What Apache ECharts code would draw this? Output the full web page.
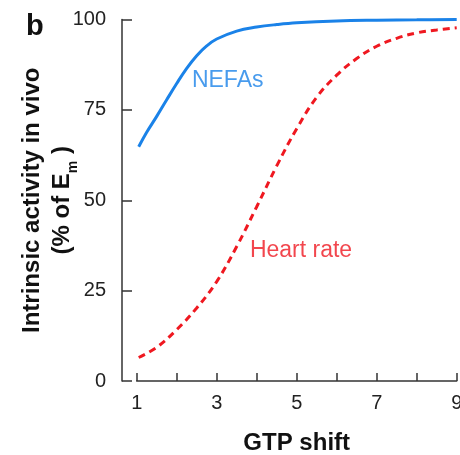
<!DOCTYPE html>
<html>
<head>
<meta charset="utf-8">
<script src="https://cdn.jsdelivr.net/npm/echarts@6/dist/echarts.min.js"></script>
<style>
html,body{margin:0;padding:0;background:#fff;}
#c{width:460px;height:455px;}
</style>
</head>
<body>
<div id="c"></div>
<script>
// GTP shift values and intrinsic activity (% of Em)
var nefaX = [1.05, 1.25, 1.5, 1.75, 2, 2.25, 2.5, 2.75, 3, 3.5, 4, 4.5, 5, 6, 7, 8, 9];
var nefaY = [64.8, 68.8, 73.2, 77.8, 82.3, 86.5, 90.0, 92.7, 94.6, 96.8, 97.9, 98.6, 99.1, 99.6, 99.8, 99.9, 100];
var hrX = [1.05, 1.5, 2, 2.5, 3, 3.5, 4, 4.5, 5, 5.5, 6, 6.5, 7, 7.5, 8, 8.5, 9];
var hrY = [6.5, 9.3, 14.2, 20.2, 27.5, 37.2, 48.2, 59.5, 69.8, 78.5, 84.6, 89.2, 92.6, 94.8, 96.3, 97.1, 97.7];
var seriesNames = ['NEFAs', 'Heart rate'];
var labelX = [2.38, 3.83];
var labelY = [83, 36];
var xTickLabels = ['1', '3', '5', '7', '9'];
var yTickLabels = ['0', '25', '50', '75', '100'];

function pairs(xs, ys) { return xs.map(function (x, i) { return [x, ys[i]]; }); }

var BLUE = '#1a82e8';
var RED = '#ef1820';

var chart = echarts.init(document.getElementById('c'), null, {renderer: 'canvas'});
chart.setOption({
  animation: false,
  backgroundColor: '#ffffff',
  grid: {left: 136.7, right: 3.3, top: 19.5, bottom: 74, containLabel: false, outerBoundsMode: 'none'},
  graphic: [{
    type: 'text', left: 26, top: 12,
    style: {text: 'b', font: 'bold 29px "Liberation Sans", Arial, sans-serif', fill: '#111'}
  }],
  xAxis: {
    type: 'value', min: 1, max: 9, interval: 1,
    name: 'GTP shift', nameLocation: 'middle', nameGap: 50, nameMoveOverlap: false,
    nameTextStyle: {fontFamily: 'Liberation Sans', fontWeight: 'bold', fontSize: 24, color: '#111'},
    axisLine: {show: true, lineStyle: {color: '#333', width: 1.5}},
    axisTick: {show: true, inside: true, length: 8, lineStyle: {color: '#333', width: 1.5}},
    axisLabel: {
      margin: 12, fontFamily: 'Liberation Sans', fontSize: 20, color: '#222',
      formatter: function (v) { var s = String(v); return xTickLabels.indexOf(s) >= 0 ? s : ''; }
    },
    splitLine: {show: false}
  },
  yAxis: {
    type: 'value', min: 0, max: 100, interval: 25, offset: 14.7,
    name: '{a|Intrinsic activity in vivo}\n{a|(% of E}{s|m}{a| )}',
    nameLocation: 'middle', nameGap: 45, nameRotate: 90, nameMoveOverlap: false,
    nameTextStyle: {
      fontFamily: 'Liberation Sans', fontWeight: 'bold', fontSize: 24, color: '#111', lineHeight: 30,
      rich: {
        a: {fontFamily: 'Liberation Sans', fontWeight: 'bold', fontSize: 24, color: '#111', lineHeight: 30},
        s: {fontFamily: 'Liberation Sans', fontWeight: 'bold', fontSize: 14, color: '#111', verticalAlign: 'bottom', lineHeight: 14, padding: [0, 0, -3, 0]}
      }
    },
    axisLine: {show: true, lineStyle: {color: '#333', width: 1.5}},
    axisTick: {show: true, inside: true, length: 10, lineStyle: {color: '#333', width: 1.5}},
    axisLabel: {
      margin: 16, fontFamily: 'Liberation Sans', fontSize: 20, color: '#222',
      formatter: function (v) { var s = String(v); return yTickLabels.indexOf(s) >= 0 ? s : ''; }
    },
    splitLine: {show: false}
  },
  series: [{
    name: seriesNames[0], type: 'line', data: pairs(nefaX, nefaY), smooth: 0.4,
    showSymbol: false, lineStyle: {color: BLUE, width: 3}, z: 3
  }, {
    name: seriesNames[1], type: 'line', data: pairs(hrX, hrY), smooth: 0.4,
    showSymbol: false, lineStyle: {color: RED, width: 3, type: [7, 5]}, z: 3
  }, {
    type: 'scatter', symbolSize: 0, silent: true, z: 4,
    data: labelX.map(function (x, i) {
      return {
        value: [x, labelY[i]],
        label: {
          show: true, position: 'inside', align: 'left', verticalAlign: 'middle',
          formatter: seriesNames[i], fontFamily: 'Liberation Sans', fontSize: 23,
          color: i === 0 ? BLUE : RED
        }
      };
    })
  }]
});
</script>
</body>
</html>
